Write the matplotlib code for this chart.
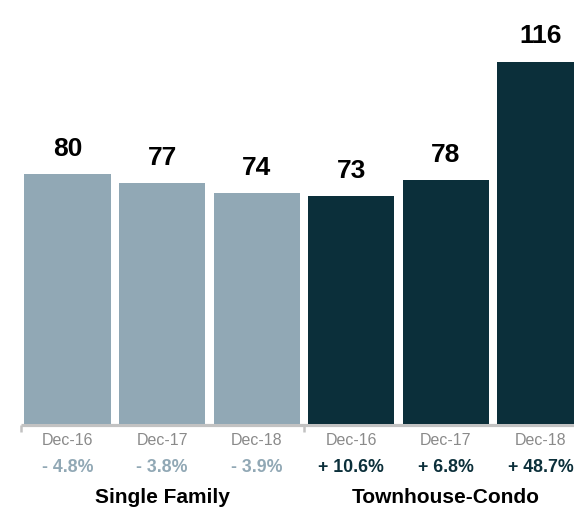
import matplotlib.pyplot as plt
import numpy as np

plt.rcParams['font.family'] = ['Liberation Sans', 'DejaVu Sans']

# data
periods = ['Dec-16', 'Dec-17', 'Dec-18', 'Dec-16', 'Dec-17', 'Dec-18']
values = [80, 77, 74, 73, 78, 116]
changes = ['- 4.8%', '- 3.8%', '- 3.9%', '+ 10.6%', '+ 6.8%', '+ 48.7%']
groups = ['Single Family', 'Townhouse-Condo']

light = '#91a8b5'
dark = '#0b2f3a'
colors = [light] * 3 + [dark] * 3

fig = plt.figure(figsize=(5.74, 5.12), dpi=100)
# axes spans whole width, bottom at the baseline (y=424 px)
ax = fig.add_axes([0, 88 / 512, 1, 424 / 512])
step = 94.6
ax.set_xlim(-67.5 / step, (574 - 67.5) / step)
ax.set_ylim(0, 424 / 3.125)
ax.axis('off')

x = np.arange(len(values))
ax.bar(x, values, width=0.91, color=colors, zorder=2)

for xi, v in zip(x, values):
    ax.text(xi, v + 4.2, str(v), ha='center', va='bottom', fontsize=19,
            fontweight='bold', color='black')

# axis line with small ticks at group starts
x0 = (21 - 67.5) / step
xm = (304 - 67.5) / step
ax.plot([x0, 6], [-0.3, -0.3], color='#c2c2c2', lw=2.3, clip_on=False, zorder=1,
        solid_capstyle='butt')
for xt in [x0, xm]:
    ax.plot([xt, xt], [-0.3, -2.6], color='#c2c2c2', lw=1.8, clip_on=False,
            solid_capstyle='butt')

for xi, p, c, col in zip(x, periods, changes, colors):
    ax.text(xi, -5.4, p, ha='center', va='center', fontsize=11.5, color='#8a8a8a')
    ax.text(xi, -13.8, c, ha='center', va='center', fontsize=12.8,
            fontweight='bold', color=col)

ax.text(1, -23.4, groups[0], ha='center', va='center', fontsize=15,
        fontweight='bold', color='black')
ax.text(4, -23.4, groups[1], ha='center', va='center', fontsize=15,
        fontweight='bold', color='black')

fig.savefig('out.png', dpi=100)
